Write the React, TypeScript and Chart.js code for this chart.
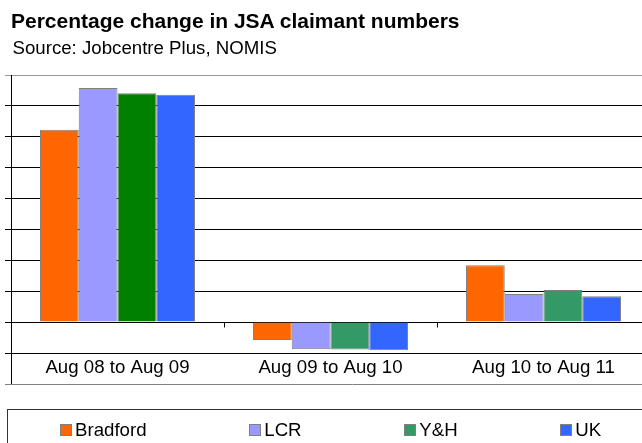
import React, { useEffect, useRef } from "react";
import { Chart, registerables } from "chart.js";

Chart.register(...registerables);

const categories = ["Aug 08 to Aug 09", "Aug 09 to Aug 10", "Aug 10 to Aug 11"];
const seriesNames = ["Bradford", "LCR", "Y&H", "UK"];
const bradford = [62.3, -5.8, 18.4];
const lcr = [75.8, -8.8, 9.1];
const yh = [74.1, -8.9, 10.4];
const uk = [73.6, -9.1, 8.4];
const yMin = -10;
const yMax = 80;
const yStep = 10;
const seriesColors = ["#FF6600", "#9999FF", "#339966", "#3366FF"];
const yhBarColors = ["#008000", "#339966", "#339966"];

const FONT = '"Liberation Sans", Arial, Helvetica, sans-serif';

const extrasPlugin = {
  id: "extras",
  afterDatasetsDraw(chart: any) {
    const { ctx, chartArea, scales } = chart;
    const xs = scales.x;
    const ys = scales.y;
    const axisX = Math.round(ys.right - 0.5) + 0.5;
    const zero = Math.round(ys.getPixelForValue(0) - 0.5) + 0.5;
    ctx.save();
    ctx.lineWidth = 1;
    ctx.strokeStyle = "#000";
    const n = categories.length;
    const half = n > 1 ? (xs.getPixelForValue(1) - xs.getPixelForValue(0)) / 2 : 0;
    for (let i = 0; i < n; i++) {
      const bx = Math.round(xs.getPixelForValue(i) + half - 0.5) + 0.5;
      ctx.beginPath();
      ctx.moveTo(bx, zero);
      ctx.lineTo(bx, zero + 5);
      ctx.stroke();
    }
    ctx.beginPath();
    ctx.moveTo(axisX, chartArea.bottom);
    ctx.lineTo(axisX, xs.bottom);
    ctx.stroke();
    ctx.strokeStyle = "#808080";
    ctx.beginPath();
    ctx.moveTo(ys.left, xs.bottom + 0.5);
    ctx.lineTo(chart.width, xs.bottom + 0.5);
    ctx.stroke();
    ctx.restore();
  },
};

function ChartCanvas() {
  const ref = useRef<HTMLCanvasElement | null>(null);
  useEffect(() => {
    if (!ref.current) return;
    const values = [bradford, lcr, yh, uk];
    const chart = new Chart(ref.current, {
      type: "bar",
      data: {
        labels: categories,
        datasets: seriesNames.map((name, i) => ({
          label: name,
          data: values[i],
          backgroundColor: i === 2 ? yhBarColors : seriesColors[i],
          borderColor: "#808080",
          borderWidth: 1,
          barPercentage: 1,
          categoryPercentage: 0.728,
        })),
      },
      options: {
        responsive: false,
        animation: false,
        layout: { padding: { left: 5, top: 75, right: 50, bottom: 59 } },
        plugins: {
          legend: { display: false },
          title: { display: false },
          tooltip: { enabled: false },
        },
        scales: {
          x: {
            type: "category",
            offset: true,
            grid: { display: false, drawTicks: false },
            border: { display: false },
            ticks: {
              font: { family: FONT, size: 18.67 },
              color: "#000",
              padding: 4,
              maxRotation: 0,
              autoSkip: false,
            },
            afterFit: (s: any) => {
              s.height = 31;
            },
          },
          y: {
            min: yMin,
            max: yMax,
            ticks: { stepSize: yStep, display: false },
            grid: {
              color: (c: any) => (c.tick && c.tick.value === yMax ? "#999999" : "#000000"),
              lineWidth: 1,
              drawTicks: true,
              tickLength: 6,
            },
            border: { display: true, color: "#000", width: 1 },
            afterFit: (s: any) => {
              s.width = 6;
            },
          },
        },
      },
      plugins: [extrasPlugin],
    });
    return () => chart.destroy();
  }, []);
  return (
    <canvas
      ref={ref}
      width={700}
      height={443}
      style={{ position: "absolute", left: 0, top: 0, display: "block" }}
    />
  );
}

export default function App() {
  return (
    <div
      style={{
        position: "fixed",
        left: 0,
        top: 0,
        width: 642,
        height: 443,
        overflow: "hidden",
        background: "#fff",
        fontFamily: FONT,
        color: "#000",
      }}
    >
      <ChartCanvas />
      <div
        style={{
          position: "absolute",
          left: 11,
          top: 10,
          fontSize: 21,
          fontWeight: "bold",
          lineHeight: 1,
          whiteSpace: "nowrap",
        }}
      >
        Percentage change in JSA claimant numbers
      </div>
      <div
        style={{
          position: "absolute",
          left: 12.5,
          top: 39,
          fontSize: 18.67,
          lineHeight: 1,
          whiteSpace: "nowrap",
        }}
      >
        Source: Jobcentre Plus, NOMIS
      </div>
      <div
        style={{
          position: "absolute",
          left: 7,
          top: 409,
          width: 700,
          height: 100,
          border: "1px solid #333",
          boxSizing: "border-box",
        }}
      />
      <div
        style={{
          position: "absolute",
          left: 60,
          top: 420.5,
          display: "flex",
          alignItems: "center",
          gap: 102.7,
          fontSize: 18.67,
          lineHeight: 1,
          whiteSpace: "nowrap",
        }}
      >
        {seriesNames.map((name, i) => (
          <div key={name} style={{ display: "flex", alignItems: "center" }}>
            <span
              style={{
                display: "inline-block",
                width: 12,
                height: 12,
                boxSizing: "border-box",
                border: "1px solid #808080",
                background: seriesColors[i],
                marginRight: 3,
              }}
            />
            <span>{name}</span>
          </div>
        ))}
      </div>
    </div>
  );
}
